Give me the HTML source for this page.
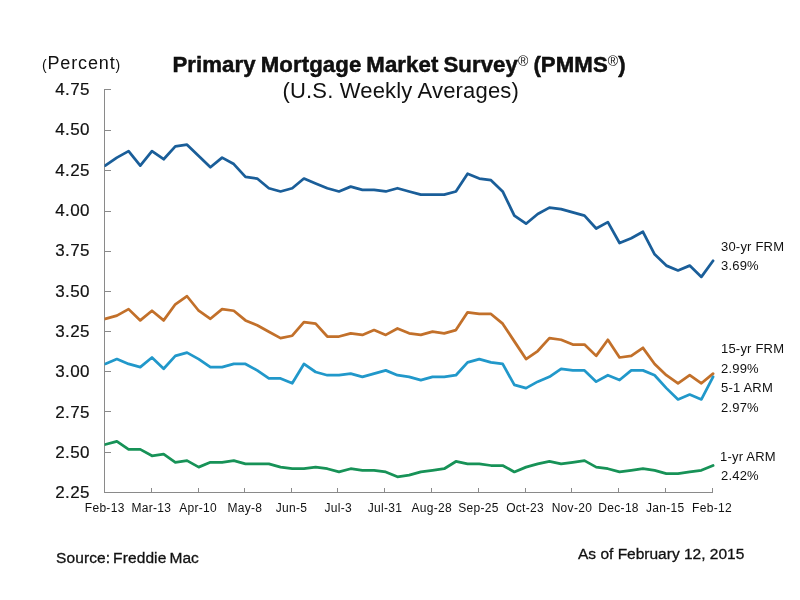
<!DOCTYPE html>
<html><head><meta charset="utf-8"><title>Primary Mortgage Market Survey</title>
<style>
html,body{margin:0;padding:0;background:#fff;}
body{width:800px;height:600px;overflow:hidden;}
svg{display:block;will-change:transform;}
text{font-family:'Liberation Sans', Arial, sans-serif;fill:#111;}
</style></head><body>
<svg width="800" height="600" viewBox="0 0 800 600">
<rect width="800" height="600" fill="#fff"/>

<g stroke="#8a8a8a" stroke-width="1" fill="none" shape-rendering="crispEdges">
<path d="M104.5 89 V493 M104 492.5 H713"/>
<path d="M104 89.5 H111 M104 130.5 H111 M104 170.5 H111 M104 211.5 H111 M104 251.5 H111 M104 291.5 H111 M104 331.5 H111 M104 371.5 H111 M104 411.5 H111 M104 452.5 H111 M104 492.5 H111 M104.5 488 V492 M151.5 488 V492 M198.5 488 V492 M244.5 488 V492 M291.5 488 V492 M337.5 488 V492 M384.5 488 V492 M431.5 488 V492 M478.5 488 V492 M525.5 488 V492 M571.5 488 V492 M618.5 488 V492 M665.5 488 V492 M712.5 488 V492"/>
</g>
<g font-size="17" text-anchor="end" letter-spacing="0.4" stroke="#111" stroke-width="0.2">
<text x="89.9" y="95.1">4.75</text>
<text x="89.9" y="135.4">4.50</text>
<text x="89.9" y="175.7">4.25</text>
<text x="89.9" y="216.0">4.00</text>
<text x="89.9" y="256.3">3.75</text>
<text x="89.9" y="296.6">3.50</text>
<text x="89.9" y="336.9">3.25</text>
<text x="89.9" y="377.2">3.00</text>
<text x="89.9" y="417.5">2.75</text>
<text x="89.9" y="457.8">2.50</text>
<text x="89.9" y="498.1">2.25</text>
</g>
<g font-size="12" text-anchor="middle" letter-spacing="0.3">
<text x="104.7" y="512.3">Feb-13</text>
<text x="151.4" y="512.3">Mar-13</text>
<text x="198.1" y="512.3">Apr-10</text>
<text x="244.8" y="512.3">May-8</text>
<text x="291.5" y="512.3">Jun-5</text>
<text x="338.2" y="512.3">Jul-3</text>
<text x="385.0" y="512.3">Jul-31</text>
<text x="431.7" y="512.3">Aug-28</text>
<text x="478.4" y="512.3">Sep-25</text>
<text x="525.1" y="512.3">Oct-23</text>
<text x="571.9" y="512.3">Nov-20</text>
<text x="618.6" y="512.3">Dec-18</text>
<text x="665.3" y="512.3">Jan-15</text>
<text x="712.0" y="512.3">Feb-12</text>
</g>
<defs><clipPath id="pa"><rect x="104.5" y="0" width="700" height="600"/></clipPath></defs>
<g clip-path="url(#pa)">
<polyline fill="none" stroke="#1a5e99" stroke-width="2.75" stroke-linejoin="round" stroke-linecap="round" points="105.20,165.66 116.89,157.60 128.58,151.16 140.27,165.66 151.96,151.16 163.65,159.22 175.34,146.32 187.03,144.71 198.72,155.99 210.41,167.28 222.10,157.60 233.79,164.05 245.48,176.95 257.17,178.56 268.86,188.23 280.55,191.46 292.24,188.23 303.93,178.56 315.62,183.40 327.31,188.23 339.00,191.46 350.69,186.62 362.38,189.84 374.07,189.84 385.76,191.46 397.45,188.23 409.14,191.46 420.83,194.68 432.52,194.68 444.21,194.68 455.90,191.46 467.59,173.72 479.28,178.56 490.97,180.17 502.66,191.46 514.35,215.64 526.04,223.70 537.73,214.02 549.42,207.58 561.11,209.19 572.80,212.41 584.49,215.64 596.18,228.53 607.87,222.08 619.56,243.04 631.25,238.20 642.94,231.76 654.63,254.32 666.32,265.61 678.01,270.44 689.70,265.61 701.39,276.89 713.08,260.77"/>
<polyline fill="none" stroke="#c2702a" stroke-width="2.75" stroke-linejoin="round" stroke-linecap="round" points="105.20,318.80 116.89,315.58 128.58,309.13 140.27,320.42 151.96,310.74 163.65,320.42 175.34,304.30 187.03,296.24 198.72,310.74 210.41,318.80 222.10,309.13 233.79,310.74 245.48,320.42 257.17,325.25 268.86,331.70 280.55,338.15 292.24,335.73 303.93,322.03 315.62,323.64 327.31,336.54 339.00,336.54 350.69,333.31 362.38,334.92 374.07,330.09 385.76,334.92 397.45,328.48 409.14,333.31 420.83,334.92 432.52,331.70 444.21,333.31 455.90,330.09 467.59,312.36 479.28,313.97 490.97,313.97 502.66,323.64 514.35,341.37 526.04,359.10 537.73,351.04 549.42,338.15 561.11,339.76 572.80,344.60 584.49,344.60 596.18,355.88 607.87,339.76 619.56,357.49 631.25,355.88 642.94,347.82 654.63,363.94 666.32,375.22 678.01,383.28 689.70,375.22 701.39,383.28 713.08,373.61"/>
<polyline fill="none" stroke="#2198ca" stroke-width="2.75" stroke-linejoin="round" stroke-linecap="round" points="105.20,363.94 116.89,359.10 128.58,363.94 140.27,367.16 151.96,357.49 163.65,368.78 175.34,355.88 187.03,352.66 198.72,359.10 210.41,367.16 222.10,367.16 233.79,363.94 245.48,363.94 257.17,370.39 268.86,378.45 280.55,378.45 292.24,383.28 303.93,363.94 315.62,372.00 327.31,375.22 339.00,375.22 350.69,373.61 362.38,376.84 374.07,373.61 385.76,370.39 397.45,375.22 409.14,376.84 420.83,380.06 432.52,376.84 444.21,376.84 455.90,375.22 467.59,362.33 479.28,359.10 490.97,362.33 502.66,363.94 514.35,384.90 526.04,388.12 537.73,381.67 549.42,376.84 561.11,368.78 572.80,370.39 584.49,370.39 596.18,381.67 607.87,375.22 619.56,380.06 631.25,370.39 642.94,370.39 654.63,375.22 666.32,388.12 678.01,399.40 689.70,394.57 701.39,399.40 713.08,376.84"/>
<polyline fill="none" stroke="#179257" stroke-width="2.75" stroke-linejoin="round" stroke-linecap="round" points="105.20,444.54 116.89,441.32 128.58,449.38 140.27,449.38 151.96,455.82 163.65,454.21 175.34,462.27 187.03,460.66 198.72,467.11 210.41,462.27 222.10,462.27 233.79,460.66 245.48,463.88 257.17,463.88 268.86,463.88 280.55,467.11 292.24,468.72 303.93,468.72 315.62,467.11 327.31,468.72 339.00,471.94 350.69,468.72 362.38,470.33 374.07,470.33 385.76,471.94 397.45,476.78 409.14,475.17 420.83,471.94 432.52,470.33 444.21,468.72 455.90,461.47 467.59,463.88 479.28,463.88 490.97,465.50 502.66,465.50 514.35,471.94 526.04,467.11 537.73,463.88 549.42,461.47 561.11,463.88 572.80,462.27 584.49,460.66 596.18,467.11 607.87,468.72 619.56,471.94 631.25,470.33 642.94,468.72 654.63,470.33 666.32,473.56 678.01,473.56 689.70,471.94 701.39,470.33 713.08,465.50"/>
</g>
<g font-size="13" letter-spacing="0.2">
<text x="721" y="250.6">30-yr FRM</text>
<text x="721" y="269.6">3.69%</text>
<text x="721" y="353.1">15-yr FRM</text>
<text x="721" y="372.5">2.99%</text>
<text x="721" y="392.1">5-1 ARM</text>
<text x="721" y="411.5">2.97%</text>
<text x="720" y="460.6">1-yr ARM</text>
<text x="721" y="479.8">2.42%</text>
</g>
<text x="172.4" y="72" font-size="22.2" font-weight="bold" word-spacing="-1.3" letter-spacing="0.1" stroke="#000" stroke-width="0.45">Primary Mortgage Market Survey<tspan font-weight="normal" font-size="14" dy="-6" stroke-width="0">®</tspan><tspan dy="6"> (PMMS</tspan><tspan font-weight="normal" font-size="14" dy="-6" stroke-width="0">®</tspan><tspan dy="6">)</tspan></text>
<text x="282.5" y="98.4" font-size="22" letter-spacing="0.17">(U.S. Weekly Averages)</text>
<text x="42" y="69.4" font-size="18" letter-spacing="0.85"><tspan font-size="14" dy="0.6">(</tspan><tspan dy="-0.6">Percent</tspan><tspan font-size="14" dy="0.6">)</tspan></text>
<text x="56" y="563" font-size="15.5" word-spacing="-1.4" letter-spacing="0.1" stroke="#111" stroke-width="0.3">Source: Freddie Mac</text>
<text x="578" y="559" font-size="15.5" stroke="#111" stroke-width="0.3">As of February 12, 2015</text>
</svg>
</body></html>
